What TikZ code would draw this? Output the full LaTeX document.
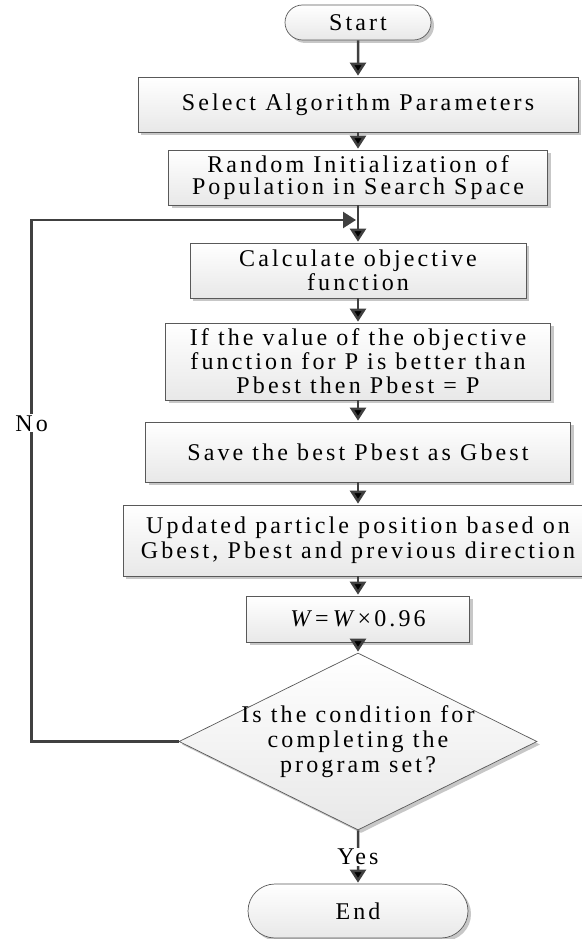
\documentclass[tikz,border=0pt]{standalone}
\usepackage{fontspec}
\setmainfont{Liberation Serif}[LetterSpace=13]
\usetikzlibrary{shapes.geometric,shapes.misc,shadows,arrows.meta}

\begin{document}
\begin{tikzpicture}[x=1pt,y=-1pt,->,>={Triangle[width=16pt,length=13pt]},
			shorten >=1pt,
			main node/.style={rectangle,draw=black!65,line width=0.7pt,text=black,
				top color=white,bottom color=black!9,align=center,inner sep=2pt,
				drop shadow={shadow xshift=3pt,shadow yshift=-3pt,fill=black!22,opacity=1},
				font=\fontsize{24}{24}\selectfont,minimum height=55pt},
			term node/.style={main node,rounded rectangle},
			cond node/.style={main node,diamond,aspect=2,inner sep=-12pt,
				minimum width=358pt,minimum height=177pt,font=\fontsize{24}{25}\selectfont},
			flow/.style={draw=black!75,line width=2.5pt},
			lbl/.style={fill=white,text=black,inner sep=1pt,font=\fontsize{24}{24}\selectfont}]
			\useasboundingbox (0,0) rectangle (581,939);
			\node[term node, minimum width=150pt, minimum height=35pt] (1) at (358,22.5) {Start};
			\node[main node, minimum width=440pt] (2) [below of=1, node distance=82pt] {Select Algorithm Parameters};
			\node[main node, minimum width=379pt, font=\fontsize{24}{22}\selectfont] (3) [below of=2, node distance=73pt] {Random Initialization of\\Population in Search Space};
			\node[main node, minimum width=336pt] (4) [below of=3, node distance=93pt] {Calculate objective\\function};
			\node[main node, minimum width=385pt, minimum height=77pt] (5) [below of=4, node distance=91pt] {If the value of the objective\\function for P is better than\\Pbest then Pbest = P};
			\node[main node, minimum width=425pt, minimum height=60pt] (6) [below of=5, node distance=90.5pt] {Save the best Pbest as Gbest};
			\node[main node, minimum width=470pt, minimum height=71pt, font=\fontsize{24}{25}\selectfont] (7) [below of=6, node distance=88.5pt] {Updated particle position based on\\Gbest, Pbest and previous direction};
			\node[main node, minimum width=223pt, minimum height=46pt] (8) [below of=7, node distance=78.5pt] {\textit{W}=\,\textit{W}×0.96};
			\node[cond node] (9) [below of=8, node distance=122.5pt] {Is the condition for\\completing the\\program set?};
			\node[term node, minimum width=224pt, minimum height=54pt] (10) [below of=9, node distance=169.5pt] {End};
			\coordinate (j) at (357,220);
			\path[flow] (1) edge (2)
			(2) edge (3)
			(3) edge (4)
			(4) edge (5)
			(5) edge (6)
			(6) edge (7)
			(7) edge (8)
			(8) edge (9)
			(9) edge node[lbl] (yes) {Yes} (10);
			\draw[flow] (9.west) -- ++(-147,0) coordinate (c1)
			-- node[lbl, pos=0.61] (no) {No} (c1 |- j) -- (j);
		\end{tikzpicture}
\end{document}
